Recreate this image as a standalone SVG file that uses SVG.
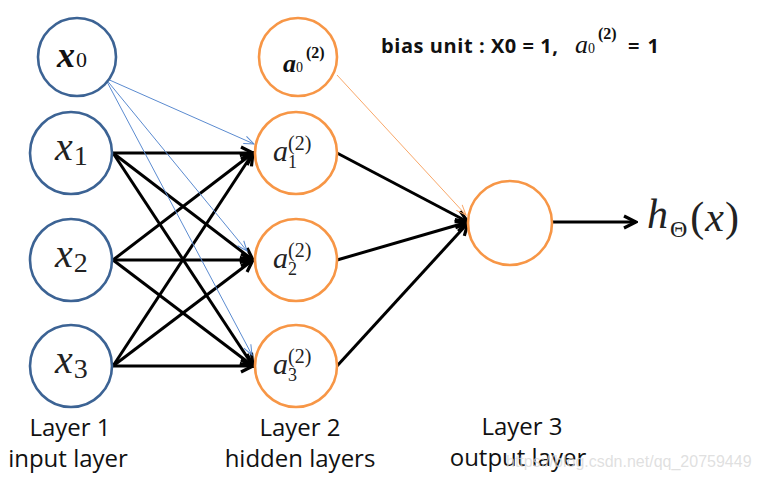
<svg xmlns="http://www.w3.org/2000/svg" width="759" height="479" viewBox="0 0 759 479">
<defs>
<marker id="ah" markerUnits="userSpaceOnUse" viewBox="0 0 16 16" refX="14" refY="8" markerWidth="16" markerHeight="16" orient="auto">
<path d="M2,2 L14,8 L2,14" fill="none" stroke="#000" stroke-width="3.2" stroke-linejoin="miter"/>
</marker>
<marker id="ahb" markerUnits="userSpaceOnUse" viewBox="0 0 12 12" refX="11" refY="6" markerWidth="12" markerHeight="12" orient="auto">
<path d="M1,2 L11,6 L1,10" fill="none" stroke="#5B8BD0" stroke-width="1"/>
</marker>
<marker id="aho" markerUnits="userSpaceOnUse" viewBox="0 0 12 12" refX="11" refY="6" markerWidth="12" markerHeight="12" orient="auto">
<path d="M1,2 L11,6 L1,10" fill="none" stroke="#F9A86A" stroke-width="1"/>
</marker>
</defs>
<style>
.in{fill:#fff;stroke:#3C6394;stroke-width:2.6}
.hid{fill:#fff;stroke:#F79646;stroke-width:2.6}
.w{stroke:#000;stroke-width:3;fill:none;marker-end:url(#ah)}
.b{stroke:#5B8BD0;stroke-width:1;fill:none;marker-end:url(#ahb)}
.o{stroke:#F9A86A;stroke-width:1;fill:none;marker-end:url(#aho)}
.m{font-family:"Liberation Serif","DejaVu Serif",serif}
.lbl{font-family:"Open Sans","Liberation Sans",sans-serif;font-size:24px;fill:#111;text-anchor:middle}
.bias{font-family:"Open Sans","Liberation Sans",sans-serif;font-weight:bold;font-size:20px;fill:#111}
</style>
<rect width="759" height="479" fill="#fff"/>
<g id="connectors">
<line class="w" x1="113" y1="153" x2="253" y2="153"/>
<line class="w" x1="113" y1="153" x2="253" y2="260"/>
<line class="w" x1="113" y1="153" x2="253" y2="366"/>
<line class="w" x1="113" y1="260" x2="253" y2="153"/>
<line class="w" x1="113" y1="260" x2="253" y2="260"/>
<line class="w" x1="113" y1="260" x2="253" y2="366"/>
<line class="w" x1="113" y1="366" x2="253" y2="153"/>
<line class="w" x1="113" y1="366" x2="253" y2="260"/>
<line class="w" x1="113" y1="366" x2="253" y2="366"/>
<line class="w" x1="337" y1="153" x2="468" y2="222"/>
<line class="w" x1="337" y1="260" x2="468" y2="222"/>
<line class="w" x1="337" y1="366" x2="468" y2="223"/>
<line class="w" x1="553" y1="222" x2="636" y2="222"/>
<line class="b" x1="105" y1="78" x2="254" y2="144"/>
<line class="b" x1="105" y1="78" x2="247" y2="251"/>
<line class="b" x1="105" y1="78" x2="252" y2="355"/>
<line class="o" x1="337" y1="75" x2="466" y2="215"/>
</g>
<g id="x0" class="m" fill="#111">
<circle class="in" cx="77" cy="57" r="39"/>
<text x="57" y="67" font-size="36" font-weight="bold" font-style="italic">x<tspan font-size="22" font-weight="normal" font-style="normal" dx="1">0</tspan></text>
</g>
<g id="x1" class="m" fill="#222">
<circle class="in" cx="71" cy="153" r="41"/>
<text x="55" y="160" font-size="40" font-style="italic">x<tspan font-size="28" font-style="normal" dy="5" dx="1">1</tspan></text>
</g>
<g id="x2" class="m" fill="#222">
<circle class="in" cx="71" cy="260" r="41"/>
<text x="55" y="267" font-size="40" font-style="italic">x<tspan font-size="28" font-style="normal" dy="5" dx="1">2</tspan></text>
</g>
<g id="x3" class="m" fill="#222">
<circle class="in" cx="71" cy="366" r="41"/>
<text x="55" y="373" font-size="40" font-style="italic">x<tspan font-size="28" font-style="normal" dy="5" dx="1">3</tspan></text>
</g>
<g id="a0" class="m" fill="#111">
<circle class="hid" cx="298" cy="57" r="39"/>
<text x="283" y="72" font-size="26" font-weight="bold" font-style="italic">a<tspan font-size="14" font-weight="normal" font-style="normal">0</tspan><tspan x="306" y="58" font-size="16" font-style="normal">(2)</tspan></text>
</g>
<g id="a1" class="m" fill="#222">
<circle class="hid" cx="296" cy="153" r="41"/>
<text x="273" y="161" font-size="30" font-style="italic">a<tspan font-size="18" font-style="normal" dy="7">1</tspan><tspan x="288" y="150" font-size="20" font-style="normal">(2)</tspan></text>
</g>
<g id="a2" class="m" fill="#222">
<circle class="hid" cx="296" cy="260" r="41"/>
<text x="273" y="268" font-size="30" font-style="italic">a<tspan font-size="18" font-style="normal" dy="7">2</tspan><tspan x="288" y="257" font-size="20" font-style="normal">(2)</tspan></text>
</g>
<g id="a3" class="m" fill="#222">
<circle class="hid" cx="296" cy="366" r="41"/>
<text x="273" y="374" font-size="30" font-style="italic">a<tspan font-size="18" font-style="normal" dy="7">3</tspan><tspan x="288" y="363" font-size="20" font-style="normal">(2)</tspan></text>
</g>
<g id="out">
<circle class="hid" cx="510" cy="223" r="42"/>
</g>
<g id="hx" class="m" fill="#222">
<text x="647" y="228" font-size="42" font-style="italic">h<tspan font-size="24" font-style="normal" dy="9" dx="2">Θ</tspan><tspan font-size="42" font-style="normal" dy="-6" dx="3">(</tspan><tspan font-size="42" dx="1">x</tspan><tspan font-size="42" font-style="normal" dx="1">)</tspan></text>
</g>
<g id="bias">
<text class="bias" x="381" y="53" textLength="177" lengthAdjust="spacing">bias unit : X0 = 1,</text>
<text x="575" y="53" class="m" fill="#111" font-size="26" font-style="italic">a<tspan font-size="14" font-style="normal">0</tspan><tspan x="598" y="39" font-size="16" font-weight="bold" font-style="normal">(2)</tspan></text>
<text class="bias" x="628" y="53" textLength="31" lengthAdjust="spacing">= 1</text>
</g>
<g id="labels">
<text class="lbl" x="70" y="436">Layer 1</text>
<text class="lbl" x="68" y="467">input layer</text>
<text class="lbl" x="300" y="436">Layer 2</text>
<text class="lbl" x="300" y="467">hidden layers</text>
<text class="lbl" x="522" y="435">Layer 3</text>
<text class="lbl" x="518" y="466">output layer</text>
</g>
<text x="506" y="467" font-family="Liberation Sans, sans-serif" font-size="16" fill="#d8d8d8" fill-opacity="0.8">https://blog.csdn.net/qq_20759449</text>
</svg>
